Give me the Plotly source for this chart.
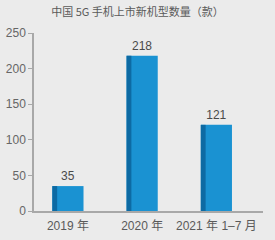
import plotly.graph_objects as go

categories = ["2019 年", "2020 年", "2021 年 1–7 月"]
values = [35, 218, 121]
y_ticks = [0, 50, 100, 150, 200, 250]

front = "#1a92d2"
side = "#0d6aa3"
txt = "#5a5a5a"
font_family = "Liberation Sans, Arial, Noto Sans CJK SC, sans-serif"

fig = go.Figure()
fig.add_trace(go.Bar(
    x=categories, y=values, width=0.42, offset=-0.21,
    marker=dict(color=front, line=dict(width=0)),
    text=[str(v) for v in values], textposition="outside",
    textfont=dict(size=12, color="#4a4a4a", family=font_family),
    cliponaxis=False, hoverinfo="skip",
))
fig.add_trace(go.Bar(
    x=categories, y=values, width=0.065, offset=-0.21,
    marker=dict(color=side, line=dict(width=0)),
    hoverinfo="skip",
))

fig.update_layout(
    width=275, height=240,
    margin=dict(l=34, r=12, t=33, b=29),
    paper_bgcolor="#ebebeb", plot_bgcolor="#ebebeb",
    barmode="overlay", showlegend=False,
    title=dict(text="中国 5G 手机上市新机型数量（款）", x=0.5, xanchor="center",
               y=1 - 12 / 240, yanchor="middle",
               font=dict(size=11, color=txt, family="Noto Sans CJK SC, sans-serif")),
    xaxis=dict(type="category", range=[-0.457, 2.628], showgrid=False,
               showline=True, linecolor="#a8a8a8", linewidth=1.5, ticks="",
               ticklabelstandoff=3, automargin=False,
               tickfont=dict(size=12, color=txt, family=font_family),
               fixedrange=True),
    yaxis=dict(range=[0, 250], tickvals=y_ticks, showgrid=False, zeroline=False,
               showline=True, linecolor="#a8a8a8", linewidth=1.5,
               ticks="outside", ticklen=4, tickcolor="#a8a8a8", automargin=False,
               tickfont=dict(size=12, color="#666666", family=font_family),
               fixedrange=True),
)

fig.write_html("out.html")
